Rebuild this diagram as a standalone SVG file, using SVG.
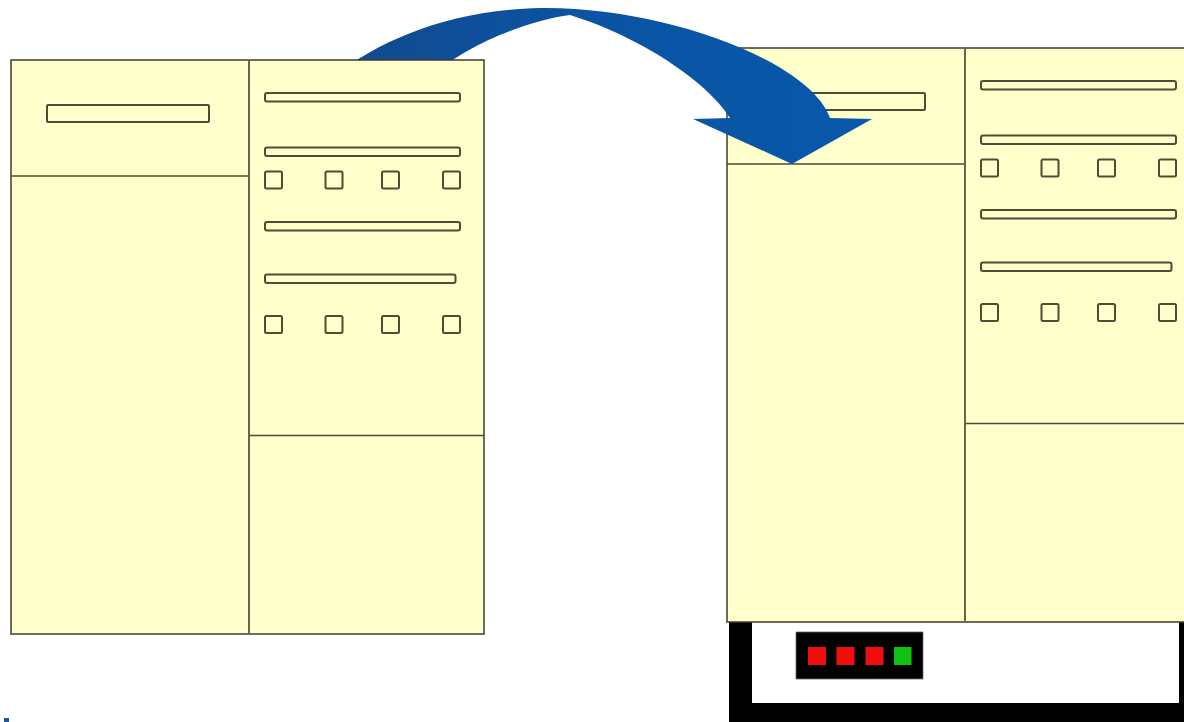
<svg xmlns="http://www.w3.org/2000/svg" xmlns:xlink="http://www.w3.org/1999/xlink" width="1184" height="722" viewBox="0 0 1184 722">
  <style>
    .pane { fill: #ffffcc; stroke: #3c3c2c; stroke-width: 1.5; }
    .div { fill: none; stroke: #4a4a36; stroke-width: 1.6; }
    .vdiv { fill: none; stroke: #66664a; stroke-width: 2; }
    .bar { fill: #ffffcc; stroke: #4d4d33; stroke-width: 2; }
    .box { fill: #ffffcc; stroke: #4d4d33; stroke-width: 2; }
    .led-r { fill: #f40d0d; }
    .led-g { fill: #12c212; }
  </style>
  <defs>
    <linearGradient id="arrowGrad" x1="0" y1="0" x2="1" y2="0">
      <stop offset="0" stop-color="#124a8e"/>
      <stop offset="0.45" stop-color="#0b53a3"/>
      <stop offset="1" stop-color="#0858aa"/>
    </linearGradient>
    <g id="pane">
      <rect class="pane" x="0" y="0" width="473" height="574"/>
      <line class="div" x1="0" y1="116" x2="238" y2="116"/>
      <line class="div" x1="238" y1="375.5" x2="473" y2="375.5"/>
      <line class="vdiv" x1="238" y1="0" x2="238" y2="574"/>
      <rect class="bar" x="36" y="45" width="162" height="17" rx="1"/>
      <rect class="bar" x="254" y="33" width="195" height="8.5" rx="2"/>
      <rect class="bar" x="254" y="87.5" width="195" height="8.5" rx="2"/>
      <rect class="box" x="254" y="111.5" width="17" height="17" rx="1.5"/>
      <rect class="box" x="314.5" y="111.5" width="17" height="17" rx="1.5"/>
      <rect class="box" x="371" y="111.5" width="17" height="17" rx="1.5"/>
      <rect class="box" x="432" y="111.5" width="17" height="17" rx="1.5"/>
      <rect class="bar" x="254" y="162" width="195" height="8.5" rx="2"/>
      <rect class="bar" x="254" y="214.5" width="190.5" height="8.5" rx="2"/>
      <rect class="box" x="254" y="256" width="17" height="17" rx="1.5"/>
      <rect class="box" x="314.5" y="256" width="17" height="17" rx="1.5"/>
      <rect class="box" x="371" y="256" width="17" height="17" rx="1.5"/>
      <rect class="box" x="432" y="256" width="17" height="17" rx="1.5"/>
    </g>
  </defs>
  <rect x="0" y="0" width="1184" height="722" fill="#ffffff"/>

  <g id="monitor">
    <rect x="729" y="612" width="480" height="120" fill="#000000"/>
    <rect x="752" y="612" width="427" height="91" fill="#ffffff"/>
    <rect x="796" y="632" width="127" height="47" fill="#000000" stroke="#6a6a6a" stroke-width="0.8"/>
    <rect class="led-r" x="808" y="647" width="18" height="18"/>
    <rect class="led-r" x="836.5" y="647" width="18" height="18"/>
    <rect class="led-r" x="865.5" y="647" width="18" height="18"/>
    <rect class="led-g" x="894" y="647" width="17.5" height="18"/>
  </g>

  <g id="right-panel">
    <use xlink:href="#pane" href="#pane" transform="translate(727,48)"/>
  </g>

  <g id="connectors">
    <path d="M 336,75 C 380,40 450,10 540,8 C 660,6 810,60 830,118 L 872,119 L 792,164 L 693,119 L 730,118 C 712,88 650,40 570,15 C 530,20 465,45 434,75 Z" fill="url(#arrowGrad)"/>
  </g>

  <g id="left-panel">
    <use xlink:href="#pane" href="#pane" transform="translate(11,60)"/>
  </g>

  <rect x="4" y="718" width="5" height="4" fill="#1f55a5"/>
</svg>
